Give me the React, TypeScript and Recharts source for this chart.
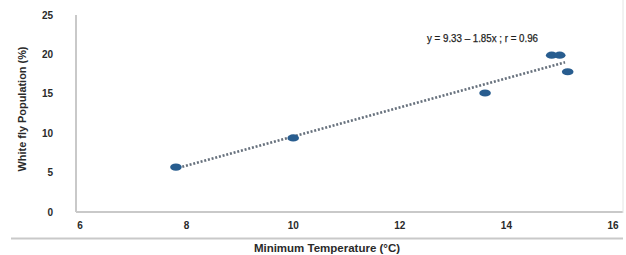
import { ScatterChart, Scatter, XAxis, YAxis } from "recharts";

// observed points (minimum temperature, white fly population)
const tempC = [7.8, 10.0, 13.6, 14.85, 15.0, 15.15];
const whiteFly = [5.7, 9.4, 15.1, 19.9, 19.9, 17.8];

// fitted line, end points
const trendTemp = [7.85, 15.1];
const trendFly = [5.6, 19.0];

const xTicks = [6, 8, 10, 12, 14, 16];
const yTicks = [0, 5, 10, 15, 20, 25];

const points = tempC.map((t, i) => ({ x: t, y: whiteFly[i] }));
const trend = trendTemp.map((t, i) => ({ x: t, y: trendFly[i] }));

const FONT = "'Liberation Sans', Arial, sans-serif";
const AXIS = "#c9c9c9";
const TICK = { fontSize: 10, fontWeight: 700, fill: "#2a2a2a", fontFamily: FONT };

const Dot = (p: any) => <ellipse cx={p.cx} cy={p.cy} rx={5.8} ry={3.6} fill="#285d8f" />;

export default function App() {
  return (
    <div style={{ position: "absolute", left: 0, top: 0, width: 626, height: 255, background: "#fff" }}>
      <ScatterChart width={626} height={255} margin={{ top: 15, right: 3, bottom: 0, left: 0 }}>
        <XAxis
          type="number"
          dataKey="x"
          domain={[6, 16]}
          ticks={xTicks}
          padding={{ left: 4, right: 10 }}
          height={43}
          tickSize={0}
          tickMargin={10}
          tick={TICK}
          axisLine={{ stroke: AXIS, strokeWidth: 2 }}
          tickLine={false}
        />
        <YAxis
          type="number"
          dataKey="y"
          domain={[0, 25]}
          ticks={yTicks}
          width={76}
          tickSize={0}
          tickMargin={23}
          tick={TICK}
          axisLine={{ stroke: AXIS, strokeWidth: 2 }}
          tickLine={false}
        />
        <Scatter
          data={trend}
          line={{ stroke: "#66707c", strokeWidth: 2.6, strokeDasharray: "2 1.8" }}
          shape={() => <g />}
          isAnimationActive={false}
        />
        <Scatter data={points} shape={Dot} isAnimationActive={false} />
      </ScatterChart>
      <svg
        width={626}
        height={255}
        style={{ position: "absolute", left: 0, top: 0, pointerEvents: "none" }}
      >
        <line x1={623} y1={0} x2={623} y2={213} stroke="#e4e4e4" strokeWidth={1} />
        <line x1={11} y1={238.5} x2={623} y2={238.5} stroke={AXIS} strokeWidth={2} />
        <text
          x={427}
          y={42}
          textLength={111}
          lengthAdjust="spacingAndGlyphs"
          fontSize={11}
          fill="#1e1e1e"
          stroke="#1e1e1e"
          strokeWidth={0.25}
          fontFamily="'Liberation Sans Narrow', 'Liberation Sans', Arial, sans-serif"
        >
          y = 9.33 – 1.85x ; r = 0.96
        </text>
        <text x={327} y={252} textAnchor="middle" fontSize={11.5} fontWeight={700} fill="#2a2a2a" fontFamily={FONT}>
          Minimum Temperature (°C)
        </text>
        <text
          x={26}
          y={109}
          textAnchor="middle"
          transform="rotate(-90 26 109)"
          fontSize={11.5}
          fontWeight={700}
          fill="#2a2a2a"
          fontFamily={FONT}
          textLength={125}
          lengthAdjust="spacingAndGlyphs"
        >
          White fly Population (%)
        </text>
      </svg>
    </div>
  );
}
